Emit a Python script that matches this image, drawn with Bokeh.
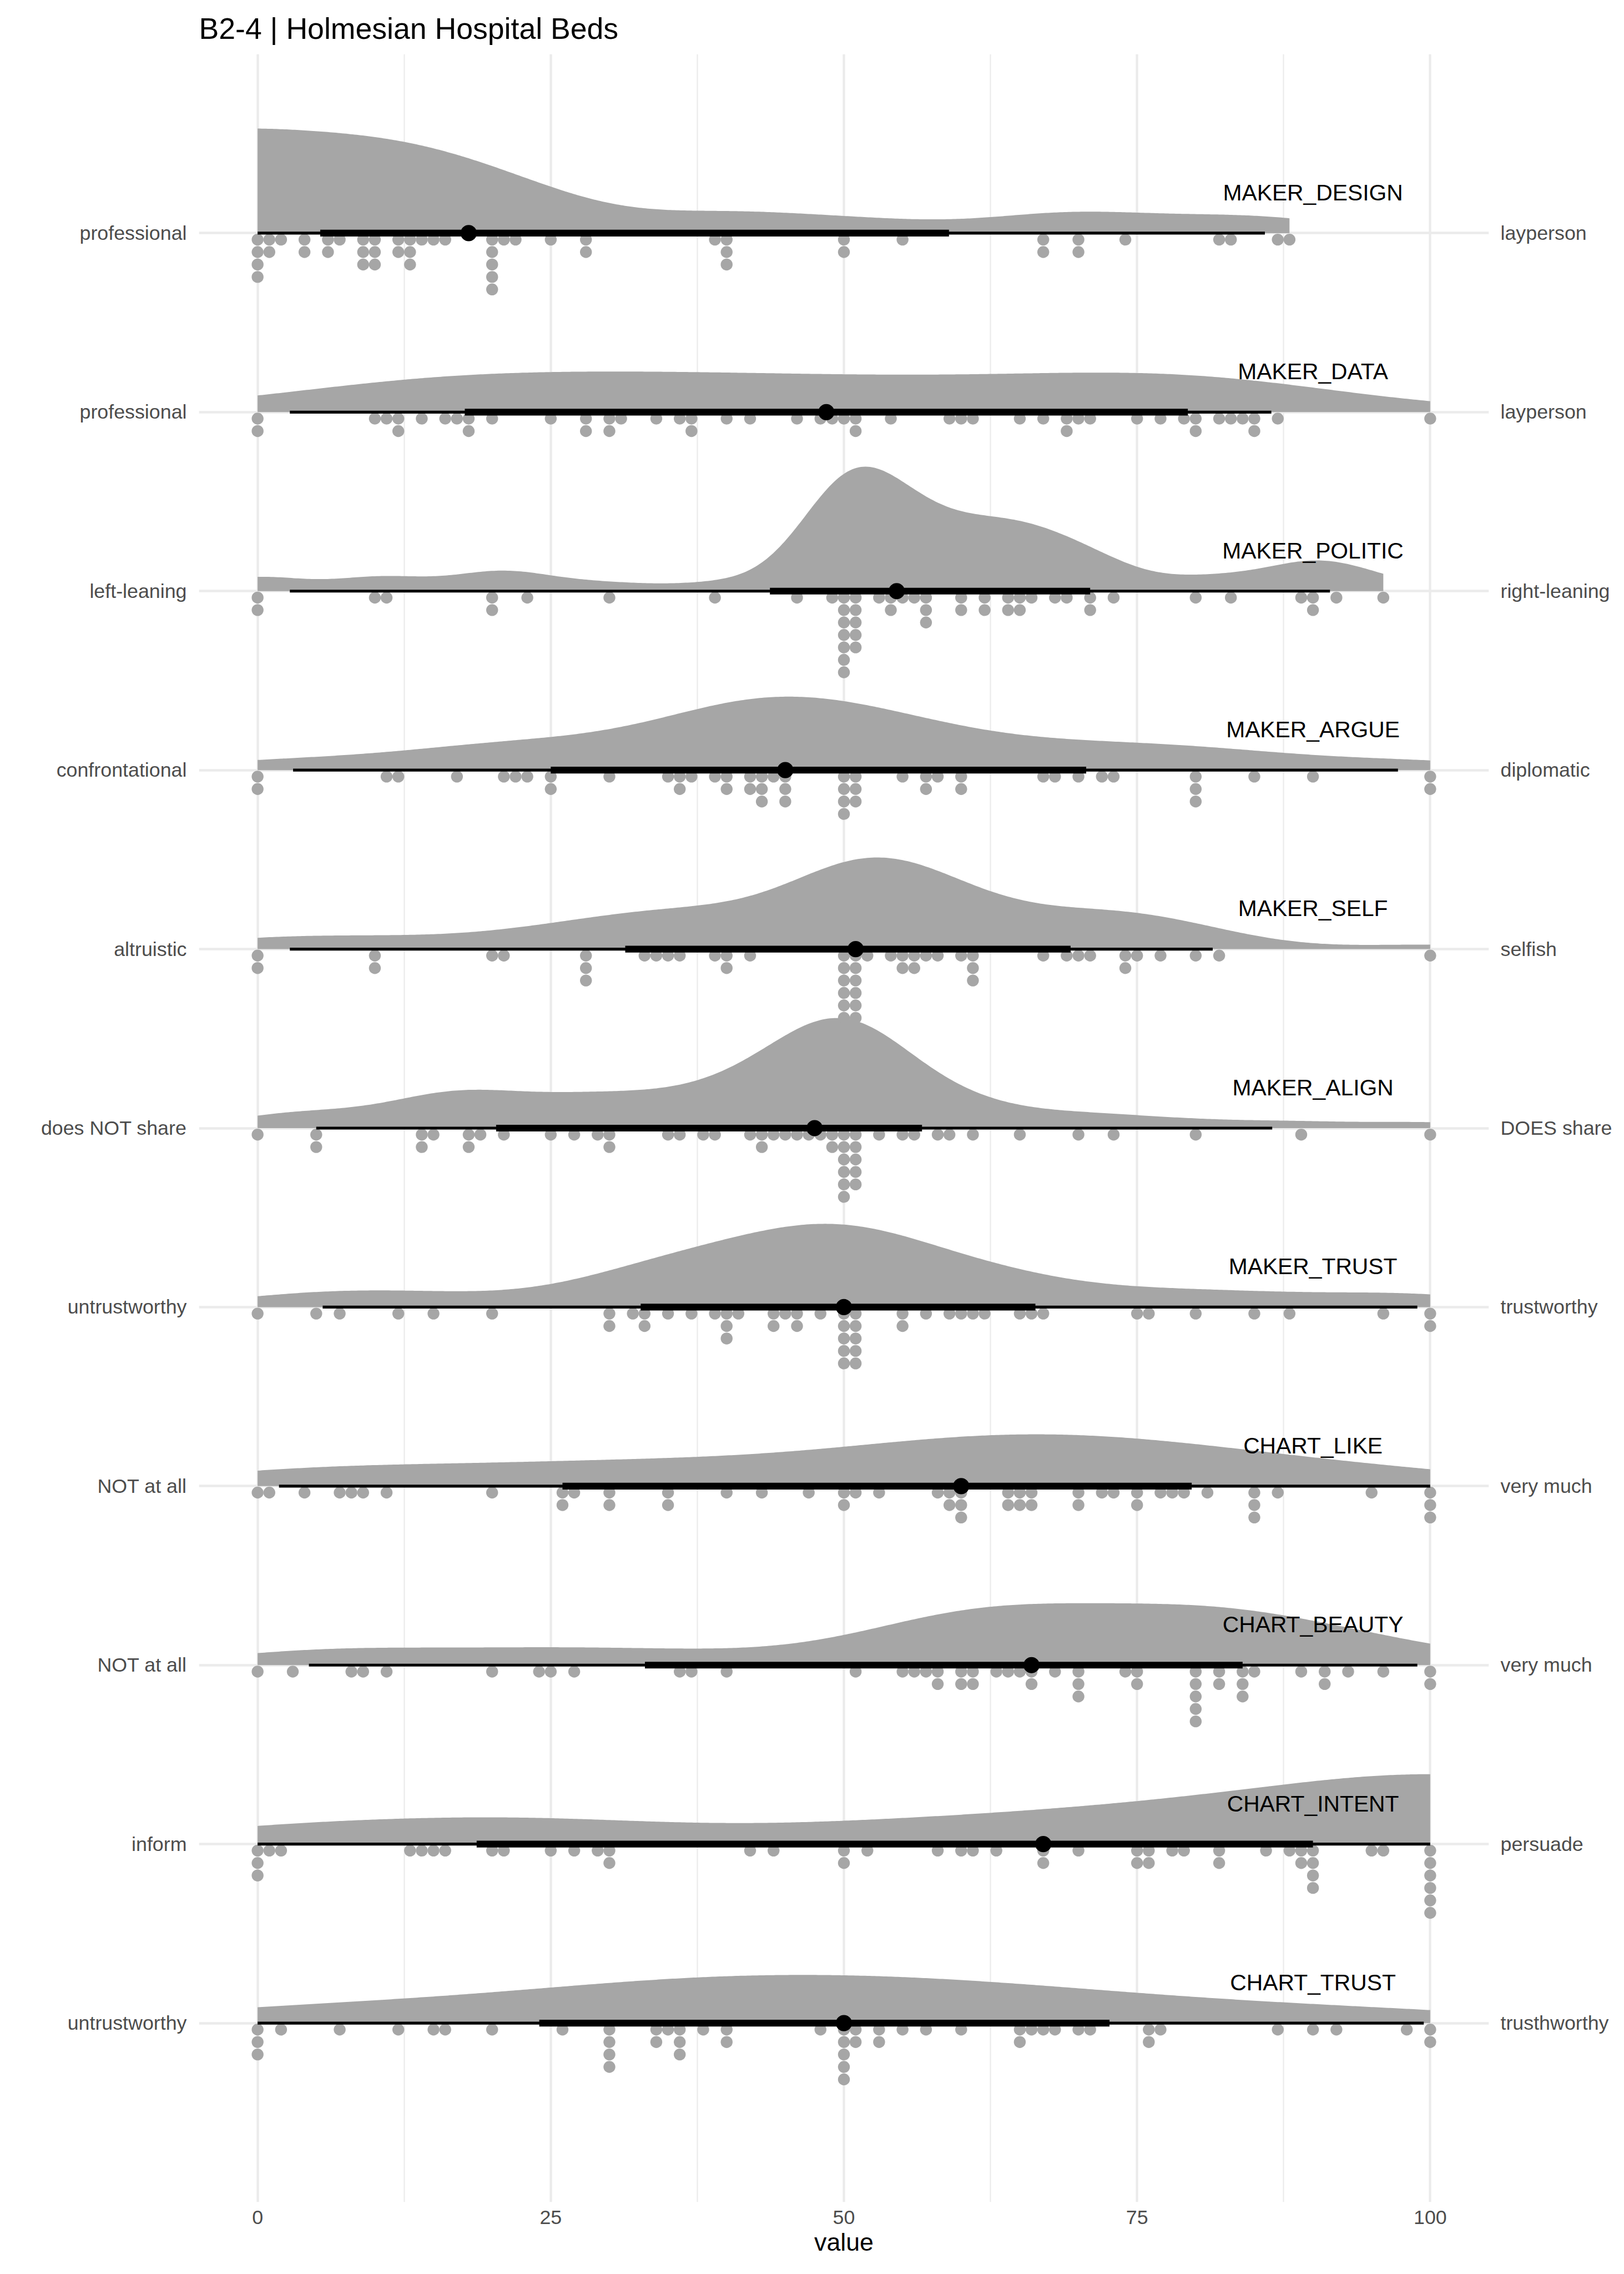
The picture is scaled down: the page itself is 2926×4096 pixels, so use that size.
import numpy as np
from bokeh.plotting import figure
from bokeh.models import FixedTicker, LinearAxis, Range1d, ColumnDataSource
from bokeh.embed import file_html
from bokeh.resources import INLINE
from bokeh.core.properties import value

# ---------------- data ----------------
title_text = "B2-4 | Holmesian Hospital Beds"
variables = ["MAKER_DESIGN", "MAKER_DATA", "MAKER_POLITIC", "MAKER_ARGUE", "MAKER_SELF",
             "MAKER_ALIGN", "MAKER_TRUST", "CHART_LIKE", "CHART_BEAUTY", "CHART_INTENT", "CHART_TRUST"]
left_labels = ["professional", "professional", "left-leaning", "confrontational", "altruistic",
               "does NOT share", "untrustworthy", "NOT at all", "NOT at all", "inform", "untrustworthy"]
right_labels = ["layperson", "layperson", "right-leaning", "diplomatic", "selfish",
                "DOES share", "trustworthy", "very much", "very much", "persuade", "trusthworthy"]
x_ticks = [0, 25, 50, 75, 100]

maker_design = [0, 0, 0, 0, 1, 1, 2, 4, 4, 6, 6, 7, 9, 9, 9, 10, 10, 10, 12, 12, 13, 13, 13, 14, 15, 16,
                20, 20, 20, 20, 20, 21, 22, 25, 28, 28, 39, 40, 40, 40, 50, 50, 55, 67, 67, 70, 70, 74,
                82, 83, 87, 88]
maker_data = [0, 0, 10, 11, 12, 12, 14, 16, 17, 18, 18, 20, 25, 28, 28, 30, 30, 31, 34, 36, 37, 37, 40,
              42, 46, 48, 49, 50, 51, 51, 54, 59, 60, 61, 65, 67, 69, 69, 70, 71, 75, 77, 79, 80, 80,
              82, 83, 84, 85, 85, 87, 100]
maker_politic = [0, 0, 10, 11, 20, 20, 23, 30, 39, 46, 49, 50, 50, 50, 50, 50, 50, 50, 51, 51, 51, 51,
                 51, 53, 54, 54, 55, 56, 57, 57, 57, 60, 60, 62, 62, 64, 64, 65, 65, 66, 68, 69, 71, 71,
                 73, 80, 83, 89, 90, 90, 92, 96]
maker_argue = [0, 0, 11, 12, 17, 21, 22, 23, 25, 25, 30, 35, 36, 36, 37, 39, 40, 40, 42, 42, 43, 43, 43,
               44, 45, 45, 45, 50, 50, 50, 50, 51, 51, 51, 55, 57, 57, 58, 60, 60, 67, 68, 70, 72, 73,
               80, 80, 80, 85, 90, 100, 100]
maker_self = [0, 0, 10, 10, 20, 21, 28, 28, 28, 33, 34, 35, 36, 39, 40, 40, 42, 50, 50, 50, 50, 50, 50,
              51, 51, 51, 51, 51, 51, 52, 54, 55, 55, 56, 56, 57, 58, 60, 61, 61, 61, 67, 69, 70, 71,
              74, 74, 75, 77, 80, 82, 100]
maker_align = [0, 5, 5, 14, 14, 15, 18, 18, 19, 21, 25, 27, 29, 30, 30, 35, 36, 38, 39, 42, 43, 43, 44,
               45, 46, 47, 48, 49, 49, 50, 50, 50, 50, 50, 50, 51, 51, 51, 51, 51, 53, 55, 56, 58, 59,
               61, 65, 70, 73, 80, 89, 100]
maker_trust = [0, 5, 7, 12, 15, 20, 30, 30, 32, 33, 33, 35, 37, 39, 40, 40, 40, 41, 44, 44, 45, 46, 46,
               48, 50, 50, 50, 50, 50, 51, 51, 51, 51, 51, 55, 55, 57, 59, 60, 61, 62, 65, 66, 67, 75,
               76, 80, 85, 88, 96, 100, 100]
chart_like = [0, 1, 4, 7, 8, 9, 11, 20, 26, 26, 27, 30, 30, 35, 35, 40, 43, 47, 50, 50, 51, 53, 58, 59,
              59, 60, 60, 60, 64, 64, 65, 65, 66, 66, 70, 70, 72, 73, 75, 75, 77, 78, 79, 81, 85, 85,
              85, 87, 95, 100, 100, 100]
chart_beauty = [0, 3, 8, 9, 11, 20, 24, 25, 27, 36, 37, 40, 51, 55, 56, 57, 58, 58, 60, 60, 61, 61, 63,
                64, 65, 66, 66, 68, 70, 70, 70, 74, 75, 75, 80, 80, 80, 80, 80, 82, 82, 84, 84, 84, 85,
                89, 91, 91, 93, 96, 100, 100]
chart_intent = [0, 0, 0, 1, 2, 13, 14, 15, 16, 20, 21, 25, 27, 29, 30, 30, 42, 44, 50, 50, 52, 58, 60,
                61, 63, 67, 67, 70, 75, 75, 76, 76, 78, 79, 82, 82, 86, 88, 89, 89, 90, 90, 90, 90, 95,
                96, 100, 100, 100, 100, 100, 100]
chart_trust = [0, 0, 0, 2, 7, 12, 15, 16, 20, 26, 30, 30, 30, 30, 34, 34, 35, 36, 36, 36, 38, 40, 40,
               48, 50, 50, 50, 50, 50, 51, 51, 53, 53, 55, 57, 60, 65, 65, 66, 67, 68, 70, 71, 76, 76,
               77, 87, 90, 92, 98, 100, 100]

samples = [maker_design, maker_data, maker_politic, maker_argue, maker_self, maker_align,
           maker_trust, chart_like, chart_beauty, chart_intent, chart_trust]

# ---------------- style ----------------
S = 0.975
W, H = 2926, 4096
FONT = "Liberation Sans"
GRAY = "#A6A6A6"
GRID = "#EBEBEB"
frame_left = 367.2 * S
frame_right = 2750.3 * S
frame_top = 99.0 * S
frame_bottom = 4068.0 * S
unit_px = (frame_bottom - frame_top) / 12.0

slab_h = 230.0 * S / unit_px          # tallest slab height in row units
dot_d = 22.0 * S                      # dot diameter (px)
dot_off0 = 12.0 * S / unit_px
dot_step = 23.0 * S / unit_px
# reflection boundary gap below min / above max (None = no reflection)
reflect_lo = [1.0, None, None, None, None, None, None, None, None, None, None]
reflect_hi = [None, None, None, None, None, None, None, None, None, 0.0, None]
bw_adjust = [1.0] * 11


def bw_sj_dpi(x, nb=1000):
    x = np.asarray(x, float)
    n = len(x)
    rang = (x.max() - x.min()) * 1.01
    dd = rang / nb
    idx = np.floor(x / dd).astype(int)
    diff = np.abs(idx[:, None] - idx[None, :])
    iu = np.triu_indices(n, 1)
    cnt = np.bincount(diff[iu], minlength=nb).astype(float)
    k = np.arange(len(cnt))

    def phi4(h):
        delta = (k * dd / h) ** 2
        m = delta < 1000
        term = np.exp(-delta / 2) * (delta ** 2 - 6 * delta + 3)
        s = 2 * np.sum(term[m] * cnt[m]) + n * 3
        return s / (n * (n - 1) * h ** 5 * np.sqrt(2 * np.pi))

    def phi6(h):
        delta = (k * dd / h) ** 2
        m = delta < 1000
        term = np.exp(-delta / 2) * (delta ** 3 - 15 * delta ** 2 + 45 * delta - 15)
        s = 2 * np.sum(term[m] * cnt[m]) - 15 * n
        return s / (n * (n - 1) * h ** 7 * np.sqrt(2 * np.pi))

    sd = np.std(x, ddof=1)
    q75, q25 = np.quantile(x, [0.75, 0.25])
    scale = min(sd, (q75 - q25) / 1.349)
    b = 1.23 * scale * n ** (-1 / 9)
    c1 = 1 / (2 * np.sqrt(np.pi) * n)
    TD = -phi6(b)
    if not np.isfinite(TD) or TD <= 0:
        return 0.9 * scale * n ** (-0.2)
    return (c1 / phi4((2.394 / (n * TD)) ** (1 / 7))) ** (1 / 5)


def kde_bounded(x, glo, ghi, adjust, npts=501):
    x = np.asarray(x, float)
    h = bw_sj_dpi(x) * adjust
    lo, hi = x.min(), x.max()
    g = np.linspace(lo, hi, npts)

    def k(c):
        return np.exp(-0.5 * ((g[:, None] - c[None, :]) / h) ** 2).sum(1)

    d = k(x)
    if glo is not None:
        d = d + k(2 * (lo - glo) - x)
    if ghi is not None:
        d = d + k(2 * (hi + ghi) - x)
    return g, d / (len(x) * h * np.sqrt(2 * np.pi))


dens = [kde_bounded(s, reflect_lo[i], reflect_hi[i], bw_adjust[i]) for i, s in enumerate(samples)]
dmax = max(d.max() for _, d in dens)

# ---------------- figure ----------------
p = figure(width=W, height=H, x_range=Range1d(-5, 105), y_range=Range1d(0, 12),
           output_backend="svg", toolbar_location=None,
           min_border_left=int(round(frame_left)), min_border_right=int(round(W - frame_right)),
           min_border_top=int(round(frame_top)), min_border_bottom=int(round(H - frame_bottom)))
p.background_fill_color = "white"
p.border_fill_color = "white"
p.outline_line_color = None

p.title.text = title_text
p.title.text_font = FONT
p.title.text_font_size = f"{55.0 * S:.1f}px"
p.title.text_font_style = "normal"
p.title.text_color = "black"
p.title.align = "left"
p.title.standoff = 33

# grids
p.xgrid.ticker = FixedTicker(ticks=x_ticks, minor_ticks=[12.5, 37.5, 62.5, 87.5])
p.xgrid.grid_line_color = GRID
p.xgrid.grid_line_width = 4.4 * S
p.xgrid.minor_grid_line_color = GRID
p.xgrid.minor_grid_line_width = 2.2 * S
p.ygrid.ticker = FixedTicker(ticks=list(range(1, 12)))
p.ygrid.grid_line_color = GRID
p.ygrid.grid_line_width = 4.4 * S

# axes
p.xaxis.ticker = FixedTicker(ticks=x_ticks)
p.xaxis.axis_label = "value"
p.yaxis.ticker = FixedTicker(ticks=list(range(1, 12)))
p.yaxis.major_label_overrides = {11 - i: lab for i, lab in enumerate(left_labels)}
ry = LinearAxis(ticker=FixedTicker(ticks=list(range(1, 12))),
                major_label_overrides={11 - i: lab for i, lab in enumerate(right_labels)})
p.add_layout(ry, "right")
for ax in p.xaxis + p.yaxis + [ry]:
    ax.axis_line_color = None
    ax.major_tick_line_color = None
    ax.minor_tick_line_color = None
    ax.major_tick_out = 0
    ax.minor_tick_out = 0
    ax.major_label_text_font = FONT
    ax.major_label_text_font_size = f"{36.7 * S:.1f}px"
    ax.major_label_text_color = "#4D4D4D"
p.xaxis.major_label_standoff = 15
p.yaxis.major_label_standoff = 22
ry.major_label_standoff = 21
p.xaxis.axis_label_text_font = FONT
p.xaxis.axis_label_text_font_size = f"{45.8 * S:.1f}px"
p.xaxis.axis_label_text_font_style = "normal"
p.xaxis.axis_label_text_color = "black"
p.xaxis.axis_label_standoff = 5

# slabs
for i, (g, d) in enumerate(dens):
    row = 11 - i
    src = ColumnDataSource(dict(x=g, y1=np.full_like(g, row, dtype=float), y2=row + d / dmax * slab_h))
    p.varea(x="x", y1="y1", y2="y2", source=src, fill_color=GRAY)

# dots
dx, dy = [], []
for i, vals in enumerate(samples):
    row = 11 - i
    u, c = np.unique(np.asarray(vals), return_counts=True)
    for uu, cc in zip(u, c):
        for k in range(cc):
            dx.append(float(uu))
            dy.append(row - (dot_off0 + k * dot_step))
p.scatter(x=dx, y=dy, size=dot_d, marker="circle", fill_color=GRAY, line_color=None)

# intervals
q = np.array([np.quantile(np.asarray(s, float), [0.025, 0.17, 0.5, 0.83, 0.975]) for s in samples])
rows = [11 - i for i in range(11)]
p.segment(x0=q[:, 0], x1=q[:, 4], y0=rows, y1=rows, line_color="black", line_width=5.3 * S, line_cap="butt")
p.segment(x0=q[:, 1], x1=q[:, 3], y0=rows, y1=rows, line_color="black", line_width=12.4 * S, line_cap="butt")
p.scatter(x=q[:, 2], y=rows, size=30.0 * S, marker="circle", fill_color="black", line_color=None)

# variable names
p.text(x=[90] * 11, y=[r + 75.0 * S / unit_px for r in rows], text=variables,
       text_font=value(FONT), text_font_size=f"{41.8 * S:.1f}px", text_color="black",
       text_align="center", text_baseline="middle")

open("out.html", "w").write(file_html(p, INLINE))
